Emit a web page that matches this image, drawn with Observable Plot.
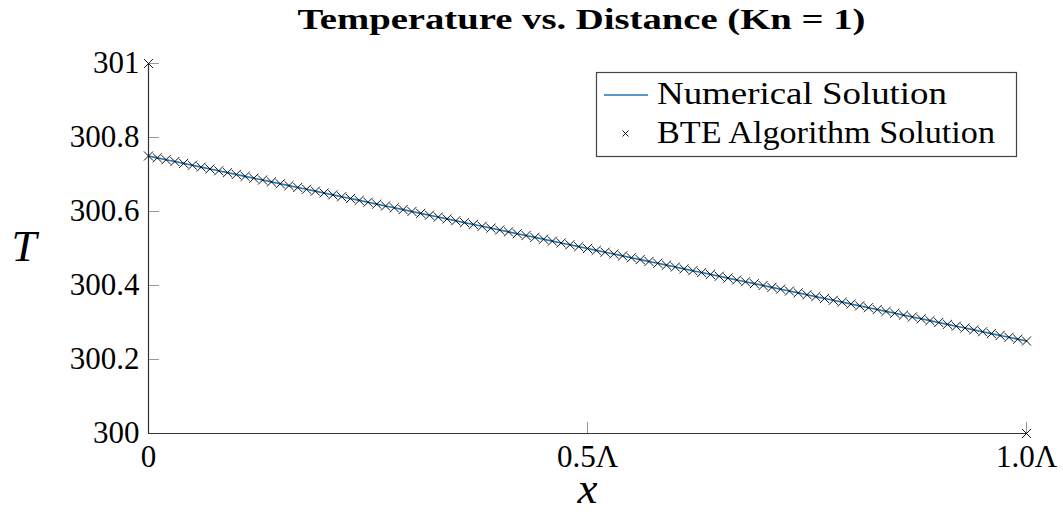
<!DOCTYPE html>
<html><head><meta charset="utf-8">
<script src="https://cdn.jsdelivr.net/npm/d3@7"></script>
<script src="https://cdn.jsdelivr.net/npm/@observablehq/plot@0.6"></script>
<style>
body{margin:0;background:#fff;}
#wrap{position:relative;width:1063px;height:514px;}
</style></head><body><div id="wrap"></div>
<script>
// x positions (fraction of Λ)
const xPos = [
0.00,0.01,0.02,0.03,0.04,0.05,0.06,0.07,0.08,0.09,
0.10,0.11,0.12,0.13,0.14,0.15,0.16,0.17,0.18,0.19,
0.20,0.21,0.22,0.23,0.24,0.25,0.26,0.27,0.28,0.29,
0.30,0.31,0.32,0.33,0.34,0.35,0.36,0.37,0.38,0.39,
0.40,0.41,0.42,0.43,0.44,0.45,0.46,0.47,0.48,0.49,
0.50,0.51,0.52,0.53,0.54,0.55,0.56,0.57,0.58,0.59,
0.60,0.61,0.62,0.63,0.64,0.65,0.66,0.67,0.68,0.69,
0.70,0.71,0.72,0.73,0.74,0.75,0.76,0.77,0.78,0.79,
0.80,0.81,0.82,0.83,0.84,0.85,0.86,0.87,0.88,0.89,
0.90,0.91,0.92,0.93,0.94,0.95,0.96,0.97,0.98,0.99,
1.00];
// Numerical solution temperatures (K)
const tempNumerical = [
300.750,300.745,300.740,300.735,300.730,300.725,300.720,300.715,300.710,300.705,
300.700,300.695,300.690,300.685,300.680,300.675,300.670,300.665,300.660,300.655,
300.650,300.645,300.640,300.635,300.630,300.625,300.620,300.615,300.610,300.605,
300.600,300.595,300.590,300.585,300.580,300.575,300.570,300.565,300.560,300.555,
300.550,300.545,300.540,300.535,300.530,300.525,300.520,300.515,300.510,300.505,
300.500,300.495,300.490,300.485,300.480,300.475,300.470,300.465,300.460,300.455,
300.450,300.445,300.440,300.435,300.430,300.425,300.420,300.415,300.410,300.405,
300.400,300.395,300.390,300.385,300.380,300.375,300.370,300.365,300.360,300.355,
300.350,300.345,300.340,300.335,300.330,300.325,300.320,300.315,300.310,300.305,
300.300,300.295,300.290,300.285,300.280,300.275,300.270,300.265,300.260,300.255,
300.250];
// BTE algorithm solution (same interior nodes) plus boundary wall points
const bteTemp = tempNumerical;
const wallX = [0, 1];
const wallTemp = [301, 300];

const yTicks = [300, 300.2, 300.4, 300.6, 300.8, 301];
const yTickLabels = ["300", "300.2", "300.4", "300.6", "300.8", "301"];
const xTicks = [0, 0.5, 1];
const xTickLabels = ["0", "0.5Λ", "1.0Λ"];
const titleText = "Temperature vs. Distance (Kn = 1)";
const legendLabels = ["Numerical Solution", "BTE Algorithm Solution"];

const W = 1063, H = 514, mL = 148, mR = 37, mT = 63, mB = 81;
const fw = W - mL - mR, fh = H - mT - mB;

const numData = xPos.map((x, i) => ({x, T: tempNumerical[i]}));
const bteData = xPos.map((x, i) => ({x, T: bteTemp[i]}))
  .concat(wallX.map((x, i) => ({x, T: wallTemp[i]})));

const serif = '"Liberation Serif", "Times New Roman", serif';
const blue = "#1f77b4";
const chart = Plot.plot({
  width: W, height: H,
  marginLeft: mL, marginRight: mR, marginTop: mT, marginBottom: mB,
  style: {fontFamily: serif, fontSize: "31px", color: "#000", background: "#fff", overflow: "visible"},
  x: {domain: [0, 1]},
  y: {domain: [300, 301]},
  marks: [
    Plot.tickY(yTicks, {y: d => d, stroke: "#999", strokeWidth: 1, insetRight: fw - 11}),
    Plot.tickX(xTicks, {x: d => d, stroke: "#999", strokeWidth: 1, insetTop: fh - 11}),
    Plot.axisY(yTicks, {tickSize: 0, tickPadding: 9, tickFormat: d => yTickLabels[yTicks.indexOf(d)], fontSize: 31, fontFamily: serif, label: null}),
    Plot.axisX(xTicks, {tickSize: 0, tickPadding: 11, tickFormat: d => xTickLabels[xTicks.indexOf(d)], fontSize: 31, fontFamily: serif, label: null}),
    Plot.ruleX([0], {stroke: "#333", strokeWidth: 1.2}),
    Plot.ruleY([300], {stroke: "#333", strokeWidth: 1.2}),
    Plot.line(numData, {x: "x", y: "T", stroke: blue, strokeWidth: 1.6}),
    Plot.dot(bteData, {x: "x", y: "T", symbol: "times", r: 4.2, stroke: "#000", strokeWidth: 0.9}),
    Plot.text([titleText], {frameAnchor: "top", dx: -6, dy: -56, fontWeight: "bold", fontSize: 30, fontFamily: serif, fill: "#000", className: "ttl"}),
    Plot.text(["T"], {frameAnchor: "left", dx: -137, dy: -2, fontStyle: "italic", fontSize: 45, fontFamily: serif, fill: "#000"}),
    Plot.text(["x"], {frameAnchor: "bottom", dy: 69, fontStyle: "italic", fontSize: 45, fontFamily: serif, fill: "#000"})
  ]
});
document.getElementById("wrap").appendChild(chart);

const svg = d3.select(chart);
svg.selectAll(".ttl text").attr("textLength", 568).attr("lengthAdjust", "spacingAndGlyphs");

// legend
const lg = svg.append("g").attr("class", "legend").attr("text-anchor", "start");
lg.append("rect").attr("x", 596.5).attr("y", 72.5).attr("width", 420).attr("height", 84)
  .attr("fill", "#fff").attr("stroke", "#444").attr("stroke-width", 1.2);
lg.append("line").attr("x1", 604).attr("x2", 648).attr("y1", 95).attr("y2", 95)
  .attr("stroke", blue).attr("stroke-width", 1.6);
lg.append("path").attr("d", "M622.5,130.5L628.5,136.5M628.5,130.5L622.5,136.5")
  .attr("stroke", "#000").attr("stroke-width", 0.9);
const legendLens = [290, 338];
const legendBase = [104, 143];
legendLabels.forEach((t, i) => {
  lg.append("text").attr("x", 657).attr("y", legendBase[i]).text(t)
    .attr("text-anchor", "start")
    .attr("font-size", 31).attr("fill", "#000")
    .attr("textLength", legendLens[i]).attr("lengthAdjust", "spacingAndGlyphs");
});
// force the serif face on every text element
svg.selectAll("text").style("font-family", serif);
</script>
</body></html>
